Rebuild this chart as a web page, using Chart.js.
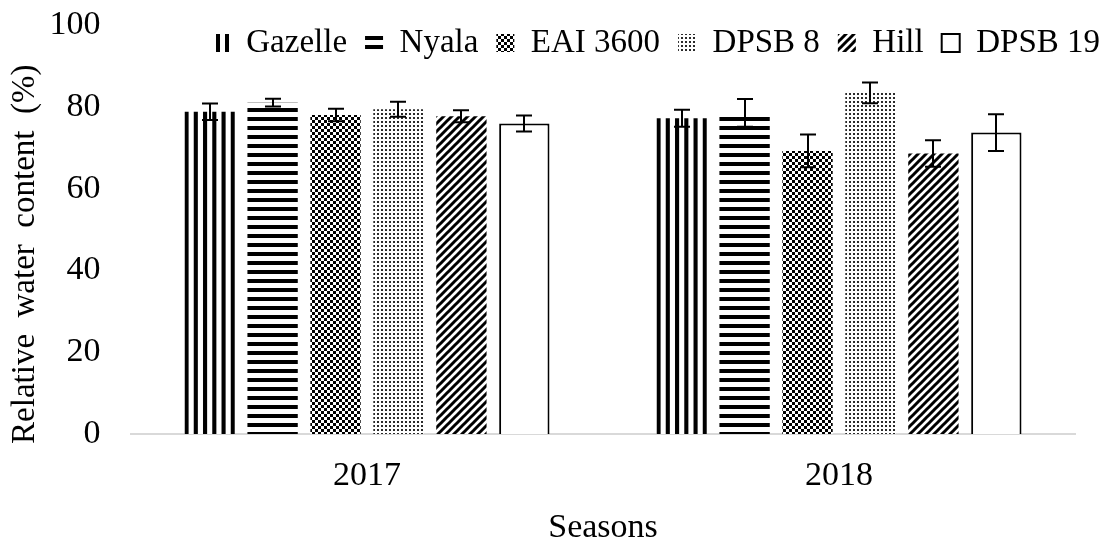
<!DOCTYPE html>
<html>
<head>
<meta charset="utf-8">
<title>Relative water content</title>
<script src="https://cdn.jsdelivr.net/npm/chart.js@4.4.1/dist/chart.umd.min.js"></script>
<style>
  html, body { margin: 0; padding: 0; background: #fff; }
  #wrap { width: 1108px; height: 545px; }
</style>
</head>
<body>
<div id="wrap"><canvas id="myChart"></canvas></div>
<script>
'use strict';

// ---- data ----
let seasons = ['2017', '2018'];
let cultivars = ['Gazelle', 'Nyala', 'EAI 3600', 'DPSB 8', 'Hill', 'DPSB 19'];

let gazelleRwc = [78.8, 77.2];
let nyalaRwc = [81.0, 78.5];
let eaiRwc = [78.0, 69.2];
let dpsb8Rwc = [79.4, 83.4];
let hillRwc = [77.7, 68.6];
let dpsb19Rwc = [75.9, 73.7];

// error bars (+/-)
let gazelleErr = [2.0, 2.05];
let nyalaErr = [0.95, 3.4];
let eaiErr = [1.55, 4.0];
let dpsb8Err = [1.85, 2.55];
let hillErr = [1.45, 3.25];
let dpsb19Err = [1.95, 4.5];

let yTicks = [0, 20, 40, 60, 80, 100];
let yTitle = 'Relative  water  content  (%)      ';
let xTitle = 'Seasons';

// ---- fill patterns ----
function makePattern(w, h, draw) {
    let c = document.createElement('canvas');
    c.width = w;
    c.height = h;
    let g = c.getContext('2d');
    g.fillStyle = '#fff';
    g.fillRect(0, 0, w, h);
    g.fillStyle = '#000';
    g.strokeStyle = '#000';
    draw(g);
    return g.createPattern(c, 'repeat');
}

let patVertical = makePattern(9, 1, g => g.fillRect(0, 0, 4, 1));
let patHorizontal = makePattern(1, 9, g => g.fillRect(0, 0, 1, 4));
let patChecker = makePattern(6, 6, g => {
    g.fillRect(0, 0, 3, 3);
    g.fillRect(3, 3, 3, 3);
});
let patDots = makePattern(4, 4, g => {
    g.fillStyle = '#2a2a2a';
    g.fillRect(1, 1, 2, 2);
});
let patDiagonal = makePattern(8, 8, g => {
    g.lineWidth = 3;
    g.beginPath();
    g.moveTo(0, 8); g.lineTo(8, 0);
    g.moveTo(-4, 4); g.lineTo(4, -4);
    g.moveTo(4, 12); g.lineTo(12, 4);
    g.stroke();
});

let fills = [patVertical, patHorizontal, patChecker, patDots, patDiagonal, '#ffffff'];
let values = [gazelleRwc, nyalaRwc, eaiRwc, dpsb8Rwc, hillRwc, dpsb19Rwc];
let errors = [gazelleErr, nyalaErr, eaiErr, dpsb8Err, hillErr, dpsb19Err];

let datasets = cultivars.map((name, i) => ({
    label: name,
    data: values[i],
    errors: errors[i],
    backgroundColor: fills[i],
    borderColor: '#000',
    borderWidth: i === 5 ? 2 : 0
}));

// ---- plugins ----
const LEGEND_Y = 43;
const LEGEND_RIGHT = 1100;
const LEGEND_FONT = 33;
const LEGEND_PAD = 18;
const CHART_TOP = 25;

// move the legend into the plot area (top right), like the original
const legendShift = {
    id: 'legendShift',
    afterLayout(chart) {
        let lg = chart.legend;
        let dy = LEGEND_Y - (lg.top + LEGEND_PAD + LEGEND_FONT / 2);
        lg.top += dy;
        lg.bottom += dy;
        let dx = LEGEND_RIGHT + LEGEND_PAD - lg.right;
        lg.left += dx;
        lg.right += dx;
    }
};

// line the vertical stripes up with the bar edges (black stripe at both sides)
const stripeAlign = {
    id: 'stripeAlign',
    beforeDatasetsDraw(chart) {
        let bars = chart.getDatasetMeta(0).data;
        if (bars.length < 2 || !patVertical.setTransform) return;
        let left = bars[0].x - bars[0].width / 2;
        let spacing = bars[1].x - bars[0].x;
        let pitch = spacing / Math.round(spacing / 9.3);
        patVertical.setTransform(new DOMMatrix([pitch / 9, 0, 0, 1, left, 0]));
    }
};

const errorBars = {
    id: 'errorBars',
    afterDatasetsDraw(chart) {
        let ctx = chart.ctx;
        let yScale = chart.scales.y;
        ctx.save();
        ctx.strokeStyle = '#000';
        ctx.lineWidth = 2;
        chart.data.datasets.forEach((ds, i) => {
            let meta = chart.getDatasetMeta(i);
            meta.data.forEach((bar, j) => {
                let v = ds.data[j];
                let e = ds.errors[j];
                let top = yScale.getPixelForValue(v + e);
                let bottom = yScale.getPixelForValue(v - e);
                let x = Math.round(bar.x);
                ctx.beginPath();
                ctx.moveTo(x, top); ctx.lineTo(x, bottom);
                ctx.moveTo(x - 8, top); ctx.lineTo(x + 8, top);
                ctx.moveTo(x - 8, bottom); ctx.lineTo(x + 8, bottom);
                ctx.stroke();
            });
        });
        ctx.restore();
    }
};

Chart.defaults.font.family = "'Liberation Serif', 'Times New Roman', serif";
Chart.defaults.color = '#000';

let legendHeight = LEGEND_FONT + LEGEND_PAD + 10;

let ctx = document.getElementById('myChart').getContext('2d');
let myChart = new Chart(ctx, {
    type: 'bar',
    data: {
        labels: seasons,
        datasets: datasets
    },
    options: {
        responsive: true,
        maintainAspectRatio: false,
        animation: false,
        layout: {
            padding: { top: CHART_TOP - legendHeight, right: 33, bottom: 0, left: 0 }
        },
        datasets: {
            bar: { categoryPercentage: 0.8, barPercentage: 0.8 }
        },
        plugins: {
            legend: {
                position: 'top',
                align: 'end',
                labels: {
                    boxWidth: 18,
                    boxHeight: 18,
                    padding: LEGEND_PAD,
                    color: '#000',
                    font: { size: LEGEND_FONT }
                }
            },
            tooltip: { enabled: false }
        },
        scales: {
            x: {
                grid: { display: false, drawTicks: true, tickLength: 25 },
                border: { display: true, color: '#d9d9d9', width: 2 },
                ticks: { padding: 0, color: '#000', font: { size: 34, lineHeight: 1 } },
                title: {
                    display: true,
                    text: xTitle,
                    color: '#000',
                    font: { size: 34, lineHeight: 1 },
                    padding: { top: 18, bottom: 0 }
                }
            },
            y: {
                min: 0,
                max: 100,
                afterBuildTicks: s => { s.ticks = yTicks.map(v => ({ value: v })); },
                grid: { display: false, drawTicks: true, tickLength: 30 },
                border: { display: false },
                ticks: { padding: 0.5, color: '#000', font: { size: 34, lineHeight: 1 } },
                title: {
                    display: true,
                    text: yTitle,
                    color: '#000',
                    font: { size: 33 },
                    padding: { top: 5.7, bottom: 3.7 }
                }
            }
        }
    },
    plugins: [legendShift, stripeAlign, errorBars]
});
</script>
</body>
</html>
